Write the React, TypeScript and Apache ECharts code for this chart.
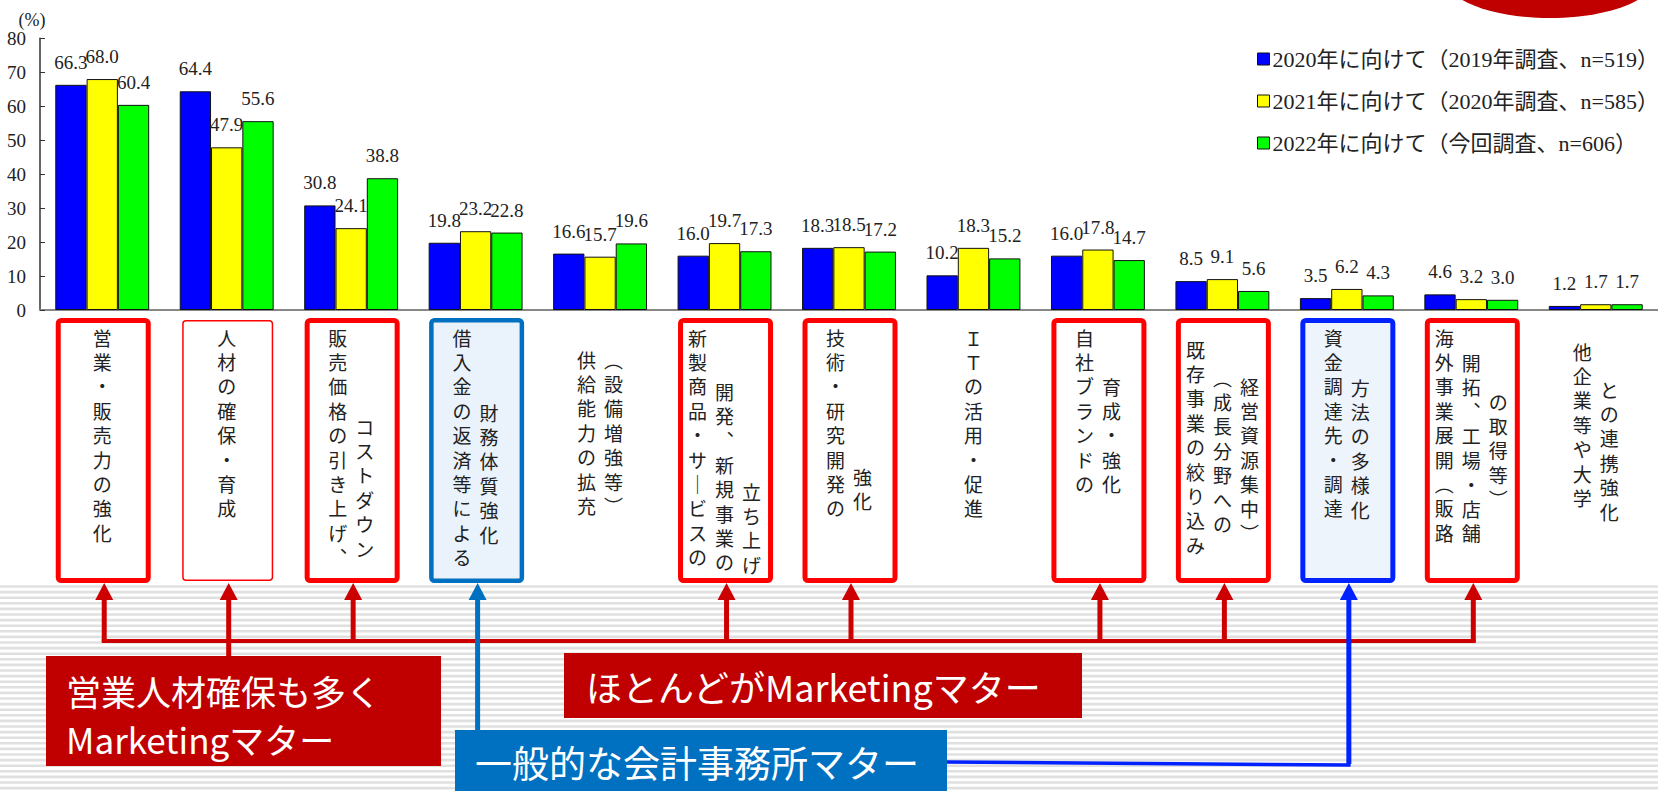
import React, { useEffect, useRef } from "react";
import * as echarts from "echarts";

// ---- data ----
const categoryColumns: string[][] = [
  ["営業・販売力の強化"],
  ["人材の確保・育成"],
  ["販売価格の引き上げ、", "コストダウン"],
  ["借入金の返済等による", "財務体質強化"],
  ["供給能力の拡充", "（設備増強等）"],
  ["新製商品・サービスの", "開発、新規事業の", "立ち上げ"],
  ["技術・研究開発の", "強化"],
  ["ＩＴの活用・促進"],
  ["自社ブランドの", "育成・強化"],
  ["既存事業の絞り込み", "（成長分野への", "経営資源集中）"],
  ["資金調達先・調達", "方法の多様化"],
  ["海外事業展開（販路", "開拓、工場・店舗", "の取得等）"],
  ["他企業等や大学", "との連携強化"],
];
const categories = categoryColumns.map((c) => c.join(""));

const seriesNames = [
  "2020年に向けて（2019年調査、n=519）",
  "2021年に向けて（2020年調査、n=585）",
  "2022年に向けて（今回調査、n=606）",
];
const values2020 = [66.3, 64.4, 30.8, 19.8, 16.6, 16.0, 18.3, 10.2, 16.0, 8.5, 3.5, 4.6, 1.2];
const values2021 = [68.0, 47.9, 24.1, 23.2, 15.7, 19.7, 18.5, 18.3, 17.8, 9.1, 6.2, 3.2, 1.7];
const values2022 = [60.4, 55.6, 38.8, 22.8, 19.6, 17.3, 17.2, 15.2, 14.7, 5.6, 4.3, 3.0, 1.7];

const yMin = 0;
const yMax = 80;
const yInterval = 10;
const yUnit = "(%)";

// annotation groups (category indices)
const marketingIdx = [0, 1, 2, 5, 6, 8, 9, 11];
const accountingIdx = [3, 10];
const marketingSalesIdx = 1;
const calloutSalesLines = ["営業人材確保も多く", "Marketingマター"];
const calloutMarketing = "ほとんどがMarketingマター";
const calloutAccounting = "一般的な会計事務所マター";

// ---- layout / style (not data) ----
const W = 1658;
const H = 791;
const barColors = ["#0000FF", "#FFFF00", "#00FF00"];
const boxStyles: (string | null)[] = [
  "red", "redThin", "red", "blueA", null, "red", "red", null, "red", "red", "blueB", "red", null,
];
const colTops: number[][] = [
  [328], [328], [328, 417], [328, 403], [350, 350], [328, 382, 482], [328, 467], [328],
  [328, 377], [340, 368, 377], [328, 378], [328, 353, 392], [342, 380],
];
const charPitch = 24.4;
const serif = "Liberation Serif, Noto Sans CJK JP";
const cjk = "Noto Sans CJK JP";

const vmap: Record<string, string> = { "（": "︵", "）": "︶", "、": "︑", "ー": "｜" };

export default function App() {
  const ref = useRef<HTMLDivElement>(null);
  useEffect(() => {
    if (!ref.current) return;
    const chart = echarts.init(ref.current, undefined, { renderer: "svg" });
    const mkSeries = (name: string, data: number[], color: string) => ({
      name,
      type: "bar",
      data,
      barWidth: 31.3,
      barGap: "0%",
      itemStyle: { color, borderColor: "#111", borderWidth: 1 },
      label: {
        show: true,
        position: "top",
        distance: 13,
        fontSize: 19,
        fontFamily: serif,
        color: "#222",
        formatter: (p: any) => Number(p.value).toFixed(1),
      },
    });
    chart.setOption({
      animation: false,
      backgroundColor: "#fff",
      grid: { left: 40, right: -4, top: 38.3, bottom: H - 310, containLabel: false },
      legend: {
        data: seriesNames,
        orient: "vertical",
        left: 1252,
        top: 43,
        itemWidth: 12,
        itemHeight: 12,
        itemGap: 20,
        icon: "rect",
        itemStyle: { borderColor: "#111", borderWidth: 1 },
        textStyle: { fontSize: 22, fontFamily: serif, color: "#222", lineHeight: 22, padding: [0, 0, 0, -2] },
      },
      xAxis: {
        type: "category",
        data: categories,
        axisLine: { lineStyle: { color: "#888", width: 2 } },
        axisTick: { show: false },
        axisLabel: { show: false },
      },
      yAxis: {
        type: "value",
        min: yMin,
        max: yMax,
        interval: yInterval,
        name: yUnit,
        nameLocation: "end",
        nameGap: 8,
        nameTextStyle: { fontSize: 18, fontFamily: serif, color: "#222", padding: [0, 16, 0, 0] },
        axisLine: { show: true, lineStyle: { color: "#333", width: 1.5 } },
        axisTick: { show: true, inside: true, length: 5, lineStyle: { color: "#333" } },
        axisLabel: { fontSize: 19, fontFamily: serif, color: "#222", margin: 14 },
        splitLine: { show: false },
      },
      series: [
        mkSeries(seriesNames[0], values2020, barColors[0]),
        mkSeries(seriesNames[1], values2021, barColors[1]),
        mkSeries(seriesNames[2], values2022, barColors[2]),
      ],
    });

    const centers = categories.map((c) => chart.convertToPixel({ xAxisIndex: 0 }, c) as number);
    const g: any[] = [];
    // striped background
    for (let y = 586.5; y < H; y += 5.6) {
      g.push({ type: "line", silent: true, z: 0, shape: { x1: 0, y1: y, x2: W, y2: y }, style: { stroke: "#E0E0E0", lineWidth: 2.6 } });
    }
    // red blob top-right
    g.push({ type: "ellipse", shape: { cx: 1550, cy: -22, rx: 105, ry: 40 }, style: { fill: "#C00000" } });

    // label boxes + vertical text
    const boxTop = 318, boxBot = 583, boxW = 95;
    categoryColumns.forEach((cols, i) => {
      const cx = centers[i] + 1;
      const st = boxStyles[i];
      if (st) {
        let lw = 5, stroke = "#FF0000", fill = "#fff";
        if (st === "redThin") lw = 1.5;
        if (st === "blueA") { stroke = "#0070C0"; fill = "#EAF3FB"; lw = 4.5; }
        if (st === "blueB") { stroke = "#0022FF"; fill = "#EEF4FC"; lw = 5; }
        const inset = st === "redThin" ? 2 : 0;
        g.push({
          type: "rect",
          z: 5,
          shape: {
            x: cx - boxW / 2 + lw / 2 + inset,
            y: boxTop + lw / 2 + inset,
            width: boxW - lw - inset * 2,
            height: boxBot - boxTop - lw - inset * 2,
            r: 3,
          },
          style: { fill, stroke, lineWidth: lw },
        });
      }
      const n = cols.length;
      cols.forEach((txt, k) => {
        const x = centers[i] + (k - (n - 1) / 2) * 27;
        Array.from(txt).forEach((ch, j) => {
          g.push({
            type: "text",
            z: 6,
            x,
            y: colTops[i][k] + 9 + j * charPitch,
            style: {
              text: vmap[ch] ?? ch,
              fontSize: 19,
              fontFamily: cjk,
              fill: "#222",
              align: "center",
              verticalAlign: "middle",
            },
          });
        });
      });
    });

    // arrows
    const arrow = (x: number, yEnd: number, color: string) => {
      g.push({ type: "line", z: 7, shape: { x1: x, y1: 596, x2: x, y2: yEnd }, style: { stroke: color, lineWidth: 5 } });
      g.push({ type: "polygon", z: 7, shape: { points: [[x, 583], [x - 9, 600], [x + 9, 600]] }, style: { fill: color } });
    };
    const red = "#CC0000";
    const ax = (i: number) => centers[i] + 2;
    marketingIdx.forEach((i) => arrow(ax(i), i === marketingSalesIdx ? 656 : 641, red));
    const mx = marketingIdx.map(ax);
    g.push({
      type: "line", z: 7,
      shape: { x1: Math.min(...mx) - 2.5, y1: 641, x2: Math.max(...mx) + 2.5, y2: 641 },
      style: { stroke: red, lineWidth: 4 },
    });
    arrow(ax(accountingIdx[0]), 731, "#0070C0");
    const bx = ax(accountingIdx[1]);
    arrow(bx, 764, "#0022FF");
    g.push({
      type: "polyline", z: 7,
      shape: { points: [[bx, 764], [bx, 765], [946, 762]] },
      style: { stroke: "#0022FF", lineWidth: 3.5, fill: "none" },
    });

    // callout boxes
    g.push({ type: "rect", z: 8, shape: { x: 46, y: 656, width: 395, height: 110 }, style: { fill: "#C00000" } });
    calloutSalesLines.forEach((t, k) => {
      g.push({
        type: "text", z: 9, x: 66, y: 690 + k * 48,
        style: { text: t, fontSize: 35, fontFamily: cjk, fill: "#fff", align: "left", verticalAlign: "middle" },
      });
    });
    g.push({ type: "rect", z: 8, shape: { x: 564, y: 653, width: 518, height: 65 }, style: { fill: "#C00000" } });
    g.push({
      type: "text", z: 9, x: 586, y: 686,
      style: { text: calloutMarketing, fontSize: 36, fontFamily: cjk, fill: "#fff", align: "left", verticalAlign: "middle" },
    });
    g.push({ type: "rect", z: 8, shape: { x: 455, y: 730, width: 492, height: 70 }, style: { fill: "#0070C0" } });
    g.push({
      type: "text", z: 9, x: 475, y: 762,
      style: { text: calloutAccounting, fontSize: 37, fontFamily: cjk, fill: "#fff", align: "left", verticalAlign: "middle" },
    });

    chart.setOption({ graphic: { elements: g } });
    return () => chart.dispose();
  }, []);
  return <div ref={ref} style={{ position: "absolute", left: 0, top: 0, width: W, height: H }} />;
}
